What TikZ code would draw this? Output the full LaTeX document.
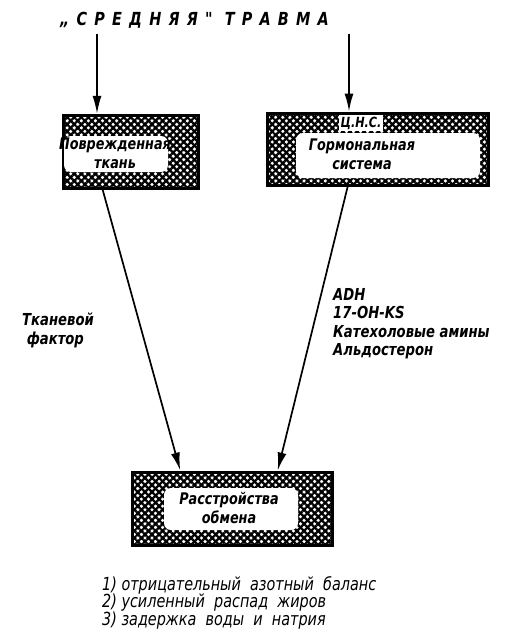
\documentclass[tikz,border=0pt]{standalone}
\usepackage{fontspec}
\setmainfont{DejaVu Sans}
\newfontfamily\hand[FakeStretch=0.8]{DejaVu Sans}
\newfontfamily\handtitle[FakeStretch=0.8,LetterSpace=40]{DejaVu Sans}
\usetikzlibrary{arrows.meta,patterns.meta,calc}
\tikzset{
  hatchbox/.style={draw=black,line width=3pt,fill=white,
    pattern={Lines[angle=45,distance=5pt,line width=2.3pt]},
    postaction={pattern={Lines[angle=-45,distance=5pt,line width=2.3pt]}}},
  hole/.style={fill=white,draw=none,rounded corners=7pt},
  boxtext/.style={font=\hand\bfseries\itshape\fontsize{16}{19}\selectfont,align=center,inner sep=0pt},
  lbl/.style={font=\hand\bfseries\itshape\fontsize{16.5}{18.5}\selectfont,align=left,inner sep=0pt,anchor=north west},
  arr/.style={line width=1.7pt,-{Latex[length=18pt,width=9pt]}},
}
\begin{document}
\begin{tikzpicture}[x=1pt,y=-1pt]
\useasboundingbox (0,0) rectangle (512,637);
% title
\node[font=\handtitle\bfseries\itshape\fontsize{18}{20}\selectfont,anchor=west,inner sep=0pt] (title) at (60,20) {„СРЕДНЯЯ"\ ТРАВМА};
\coordinate (s1) at (97,34);
\coordinate (s2) at (349,34);
% boxes
\node[hatchbox,minimum width=135pt,minimum height=73pt,inner sep=0pt] (lbox) at (130.5,151.5) {};
\node[hatchbox,minimum width=221pt,minimum height=72pt,inner sep=0pt] (rbox) at (377.5,149) {};
\node[hatchbox,minimum width=200pt,minimum height=73pt,inner sep=0pt] (bbox) at (232,508.5) {};
% white holes
\fill[hole] (64,136) rectangle (168,172);
\fill[hole] (296,133) rectangle (480,178);
\fill[hole] (164,488) rectangle (298,530);
% box texts
\node[boxtext] (lt) at (115,153) {Поврежденная\\ткань};
\node[boxtext,fill=white,inner sep=1.5pt,font=\hand\bfseries\itshape\fontsize{14}{16}\selectfont] (cns) at (361,123) {Ц.Н.С.};
\node[boxtext] (rt) at (362,154) {Гормональная\\система};
\node[boxtext] (bt) at (229,508) {Расстройства\\обмена};
% arrows
\draw[arr] (s1) -- (s1 |- lbox.north);
\draw[arr] (s2) -- (s2 |- rbox.north);
\draw[arr] ($(lbox.south west)!0.296!(lbox.south east)$) -- ($(bbox.north west)!0.245!(bbox.north east)$);
\draw[arr] ($(rbox.south west)!0.367!(rbox.south east)$) -- ($(bbox.north west)!0.725!(bbox.north east)$);
% labels
\node[lbl] (tf) at (22,313) {Тканевой\\\ фактор};
\node[lbl] (hor) at (333,288) {ADH\\17-OH-KS\\Катехоловые амины\\Альдостерон};
\node[font=\hand\itshape\fontsize{18}{17.5}\selectfont,align=left,anchor=north west,inner sep=0pt] (res) at (102,576)
  {1) отрицательный\ \ азотный\ \ баланс\\2) усиленный\ \ распад\ \ жиров\\3) задержка\ \ воды\ \ и\ \ натрия};
\end{tikzpicture}
\end{document}
